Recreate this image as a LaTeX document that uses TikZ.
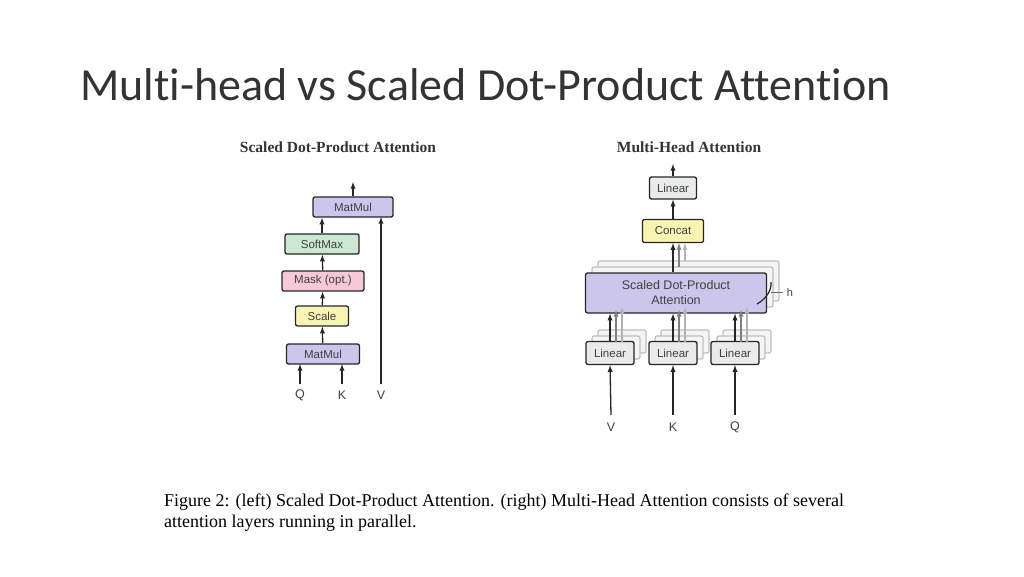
\documentclass[tikz,border=0pt]{standalone}
\usepackage{fontspec}
\setmainfont{Carlito}[Ligatures=NoCommon]
\newfontfamily\figsans{Liberation Sans}
\newfontfamily\figserif{Liberation Serif}
\usetikzlibrary{positioning}
\definecolor{purpl}{RGB}{204,198,236}
\definecolor{greenb}{RGB}{203,232,208}
\definecolor{pinkb}{RGB}{246,200,216}
\definecolor{yellb}{RGB}{248,244,178}
\definecolor{greyb}{RGB}{232,235,233}
\tikzset{
  blk/.style={draw=black!85, line width=1.3pt, rounded corners=2pt, inner sep=0pt,
    font=\figsans\fontsize{11.5}{13}\selectfont, text=black!75},
  shadowblk/.style={draw=black!25, line width=1.2pt, rounded corners=2pt, fill=black!4},
  arr/.style={-latex, line width=1.3pt, black!85},
  lbl/.style={font=\figsans\fontsize{12.5}{13}\selectfont, text=black!75}
}
\begin{document}
\begin{tikzpicture}[x=1pt,y=-1pt]
  \useasboundingbox (0,0) rectangle (1024,576);
  % Title
  \node[anchor=base west, inner sep=0pt, font=\fontsize{46}{50}\selectfont, text=black!80] (title) at (80,100) {Multi-head vs Scaled Dot-Product Attention};

  % Left: scaled dot-product attention
  \node[font=\figserif\bfseries\fontsize{15.5}{16}\selectfont, text=black!80] (ltitle) at (338,147) {Scaled Dot-Product Attention};
  \node[blk, fill=purpl, minimum width=80pt, minimum height=20pt] (mm2) at (353,207) {MatMul};
  \node[blk, fill=greenb, minimum width=74pt, minimum height=20pt] (soft) at (322,244) {SoftMax};
  \node[blk, fill=pinkb, minimum width=82pt, minimum height=20pt] (mask) at (323,281) {Mask (opt.)};
  \node[blk, fill=yellb, minimum width=53pt, minimum height=20pt] (scale) at (322,316) {Scale};
  \node[blk, fill=purpl, minimum width=73pt, minimum height=20pt] (mm1) at (323,354) {MatMul};
  \node[lbl] (q1) at (300,395) {Q};
  \node[lbl] (k1) at (342,395) {K};
  \node[lbl] (v1) at (381,395) {V};
  \coordinate (out1) at (353,182);
  \draw[arr] (300,384) -- (300,364);
  \draw[arr] (342,384) -- (342,364);
  \draw[arr] (381,384) -- (381,217);
  \draw[arr] (mm1) -- (scale);
  \draw[arr] (scale) -- (mask);
  \draw[arr] (mask) -- (soft);
  \draw[arr] (soft.north) -- (soft.north |- mm2.south);
  \draw[arr] (mm2) -- (out1);

  % Right: multi-head attention
  \node[font=\figserif\bfseries\fontsize{15.5}{16}\selectfont, text=black!80] (rtitle) at (689,147) {Multi-Head Attention};
  \foreach \d in {12,6} {
    \draw[shadowblk] (586+\d,273-\d) rectangle (767+\d,313-\d);
    \foreach \cx in {610,673,735}
      \draw[shadowblk] (\cx-24+\d,342-\d) rectangle (\cx+24+\d,365-\d);
  }
  \node[blk, fill=purpl, minimum width=181pt, minimum height=40pt, align=center,
    font=\figsans\fontsize{12.5}{15}\selectfont] (sdpa) at (676,293) {Scaled Dot-Product\\Attention};
  \node[blk, fill=greyb, minimum width=48pt, minimum height=23pt] (linv) at (610,353) {Linear};
  \node[blk, fill=greyb, minimum width=48pt, minimum height=23pt] (link) at (673,353) {Linear};
  \node[blk, fill=greyb, minimum width=48pt, minimum height=23pt] (linq) at (735,353) {Linear};
  \node[blk, fill=yellb, minimum width=61pt, minimum height=23pt] (concat) at (673,231) {Concat};
  \node[blk, fill=greyb, minimum width=47pt, minimum height=22pt] (linout) at (673,188) {Linear};
  \node[lbl] (v2) at (611,427) {V};
  \node[lbl] (k2) at (673,427) {K};
  \node[lbl] (q2) at (735,427) {Q};
  \node[lbl, font=\figsans\fontsize{11}{12}\selectfont] (hh) at (790,293) {h};
  \coordinate (out2) at (673,164);
  \foreach \n/\x in {linv/610,link/673,linq/735} {
    \draw[arr, black!30] (\x+12,342) -- (\x+12,307);
    \draw[arr, black!50] (\x+6,342) -- (\x+6,310);
    \draw[arr] (\n.north) -- (\n.north |- sdpa.south);
  }
  \draw[arr] (611,415) -- (linv.south);
  \draw[arr] (673,415) -- (link.south);
  \draw[arr] (735,415) -- (linq.south);
  \draw[arr, black!30] (685,261) -- (685,243);
  \draw[arr, black!50] (679,267) -- (679,243);
  \draw[arr] (sdpa.north -| concat) -- (concat.south);
  \draw[arr] (concat) -- (linout);
  \draw[arr] (linout) -- (out2);
  \draw[line width=1.2pt, black!85] (771,282) .. controls (772,292) and (764,300) .. (757,304);
  \draw[black!60, line width=0.8pt] (771,292) -- (783,292);

  % Caption
  \node[anchor=north west, inner sep=0pt, align=left, font=\figserif\fontsize{18}{21}\selectfont] (cap) at (164,494)
    {Figure 2: (left) Scaled Dot-Product Attention. (right) Multi-Head Attention consists of several\\attention layers running in parallel.};
\end{tikzpicture}
\end{document}
